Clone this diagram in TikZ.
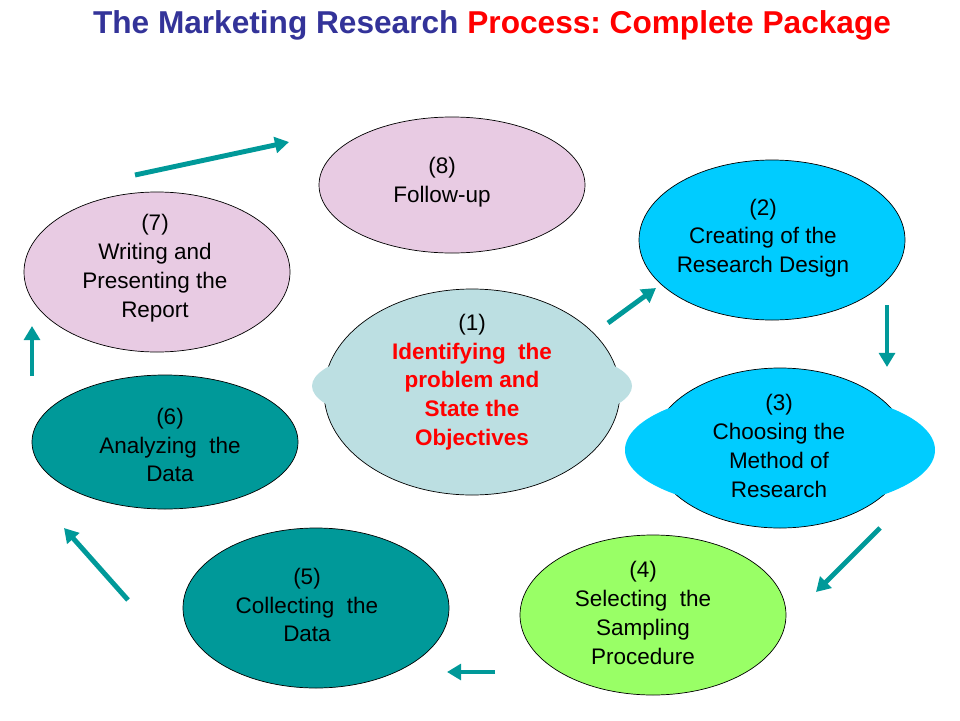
\documentclass[tikz,border=0pt]{standalone}
\usepackage{fontspec}
\setmainfont{Liberation Sans}
\frenchspacing
\usetikzlibrary{positioning}
\definecolor{titleblue}{HTML}{333399}
\definecolor{titlered}{HTML}{FF0000}
\definecolor{pinkfill}{HTML}{E8CBE3}
\definecolor{cyanfill}{HTML}{00CCFF}
\definecolor{lightfill}{HTML}{BCDFE2}
\definecolor{tealfill}{HTML}{009999}
\definecolor{greenfill}{HTML}{99FF66}
\tikzset{
  stagetext/.style={align=center, font=\fontsize{12.8}{16.4}\selectfont},
  flowarrow/.style={->,>={Triangle[width=9pt,length=8pt]}, line width=2.8pt, tealfill},
}
\usetikzlibrary{arrows.meta}
\begin{document}
\begin{tikzpicture}[x=0.02cm,y=-0.02cm]
		\useasboundingbox (0,0) rectangle (960,720);
		% タイトル
		\node (title) at (492,25) {\fontsize{18}{22}\selectfont\bfseries\textcolor{titleblue}{The Marketing Research} \textcolor{titlered}{Process: Complete Package}};
		% 楕円の描画
		\draw[fill=pinkfill] (452,185) ellipse (133 and 68);
		\draw[fill=cyanfill] (772,240) ellipse (133 and 80);
		\draw[fill=pinkfill] (157,272) ellipse (133 and 80);
		\draw[fill=lightfill] (472,392) ellipse (148 and 103);
		\fill[lightfill] (472,386) ellipse (160 and 44);
		\draw[fill=cyanfill] (780,448) ellipse (128 and 80);
		\fill[cyanfill] (780,450) ellipse (155 and 60);
		\draw[fill=tealfill] (165,442) ellipse (133 and 67);
		\draw[fill=tealfill] (316,608) ellipse (133 and 80);
		\draw[fill=greenfill] (653,615) ellipse (133 and 80);
		% 文字の描画
		\node[stagetext] (s8) at (442,182) {(8)\\Follow-up};
		\node[stagetext] (s2) at (763,238) {(2)\\Creating of the\\Research Design};
		\node[stagetext] (s7) at (155,268) {(7)\\Writing and\\Presenting the\\Report};
		\node[stagetext] (s1) at (472,382) {(1)\\\textcolor{titlered}{\bfseries Identifying\ \ the}\\\textcolor{titlered}{\bfseries problem and}\\\textcolor{titlered}{\bfseries State the}\\\textcolor{titlered}{\bfseries Objectives}};
		\node[stagetext] (s3) at (779,446) {(3)\\Choosing the\\Method of\\Research};
		\node[stagetext] (s6) at (170,445) {(6)\\Analyzing\ \ the\\Data};
		\node[stagetext] (s5) at (307,605) {(5)\\Collecting\ \ the\\Data};
		\node[stagetext] (s4) at (643,613) {(4)\\Selecting\ \ the\\Sampling\\Procedure};
		% 矢印の描画
		\coordinate (a1s) at (608,323); \coordinate (a1e) at (656,288);
		\coordinate (a2s) at (887,305); \coordinate (a2e) at (887,367);
		\coordinate (a3s) at (880,528); \coordinate (a3e) at (816,592);
		\coordinate (a4s) at (495,672); \coordinate (a4e) at (447,672);
		\coordinate (a5s) at (128,600); \coordinate (a5e) at (64,528);
		\coordinate (a6s) at (32,376); \coordinate (a6e) at (32,326);
		\coordinate (a7s) at (135,175); \coordinate (a7e) at (289,142);
		\foreach \i in {1,...,7}
			\draw[flowarrow] (a\i s)--(a\i e);
	\end{tikzpicture}
\end{document}
